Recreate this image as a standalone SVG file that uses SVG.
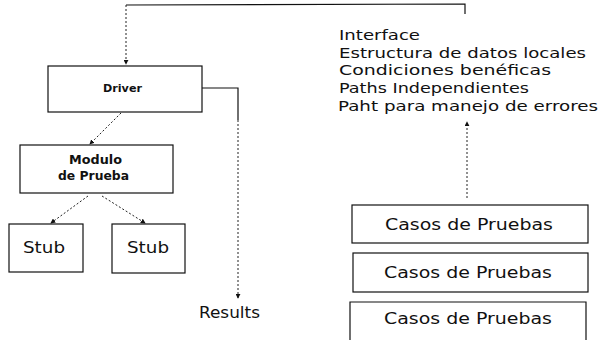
<svg xmlns="http://www.w3.org/2000/svg" width="613" height="340" viewBox="0 0 613 340">
<style>
.box{fill:#fff;stroke:#111;stroke-width:1.2}
.ln{fill:none;stroke:#111;stroke-width:1.2}
.dot{fill:none;stroke:#222;stroke-width:1;stroke-dasharray:2 2}
.t{font-family:"DejaVu Sans","Liberation Sans",sans-serif;fill:#111}
</style>
<defs>
<marker id="ah" viewBox="0 0 6 6" refX="5" refY="3" markerWidth="5" markerHeight="5" orient="auto" markerUnits="userSpaceOnUse">
<path d="M0,0 L6,3 L0,6 z" fill="#111"/>
</marker>
</defs>
<rect width="613" height="340" fill="#fff"/>
<g id="connectors">
<polyline class="ln" points="126,5 465,4 465,14"/>
<line class="dot" x1="126" y1="5" x2="126" y2="64" marker-end="url(#ah)"/>
<line class="dot" x1="121" y1="113" x2="90" y2="144" marker-end="url(#ah)"/>
<line class="dot" x1="88" y1="196" x2="51" y2="223" marker-end="url(#ah)"/>
<line class="dot" x1="102" y1="196" x2="145" y2="223" marker-end="url(#ah)"/>
<polyline class="ln" points="202,88 238,88 238,120"/>
<line class="dot" x1="238" y1="120" x2="238" y2="298" marker-end="url(#ah)"/>
<line class="dot" x1="467" y1="198" x2="467" y2="122" marker-end="url(#ah)"/>
</g>
<g id="driver">
<rect class="box" x="48" y="66" width="154" height="46"/>
<text class="t" x="103" y="92" font-size="10" font-weight="bold" textLength="39" lengthAdjust="spacingAndGlyphs">Driver</text>
</g>
<g id="modulo">
<rect class="box" x="20" y="145" width="153" height="48"/>
<text class="t" x="69" y="164" font-size="12" font-weight="bold" textLength="53" lengthAdjust="spacingAndGlyphs">Modulo</text>
<text class="t" x="58" y="180" font-size="12" font-weight="bold" textLength="71" lengthAdjust="spacingAndGlyphs">de Prueba</text>
</g>
<g id="stub1">
<rect class="box" x="9" y="224" width="74" height="48"/>
<text class="t" x="23" y="253" font-size="15" textLength="42" lengthAdjust="spacingAndGlyphs">Stub</text>
</g>
<g id="stub2">
<rect class="box" x="112" y="224" width="73" height="49"/>
<text class="t" x="127" y="253" font-size="15" textLength="42" lengthAdjust="spacingAndGlyphs">Stub</text>
</g>
<g id="results">
<text class="t" x="199" y="318" font-size="15" textLength="61" lengthAdjust="spacingAndGlyphs">Results</text>
</g>
<g id="criteria">
<text class="t" x="339" y="40" font-size="14" textLength="81" lengthAdjust="spacingAndGlyphs">Interface</text>
<text class="t" x="339" y="58" font-size="14" textLength="247" lengthAdjust="spacingAndGlyphs">Estructura de datos locales</text>
<text class="t" x="339" y="75" font-size="14" textLength="212" lengthAdjust="spacingAndGlyphs">Condiciones benéficas</text>
<text class="t" x="339" y="93" font-size="14" textLength="190" lengthAdjust="spacingAndGlyphs">Paths Independientes</text>
<text class="t" x="338" y="111" font-size="14" textLength="260" lengthAdjust="spacingAndGlyphs">Paht para manejo de errores</text>
</g>
<g id="casos1">
<rect class="box" x="352" y="205" width="236" height="38"/>
<text class="t" x="385" y="230" font-size="15" textLength="168" lengthAdjust="spacingAndGlyphs">Casos de Pruebas</text>
</g>
<g id="casos2">
<rect class="box" x="353" y="253" width="235" height="39"/>
<text class="t" x="384" y="278" font-size="15" textLength="168" lengthAdjust="spacingAndGlyphs">Casos de Pruebas</text>
</g>
<g id="casos3">
<path class="ln" d="M350,340 V302 H586 V340"/>
<text class="t" x="384" y="324" font-size="15" textLength="168" lengthAdjust="spacingAndGlyphs">Casos de Pruebas</text>
</g>
</svg>
